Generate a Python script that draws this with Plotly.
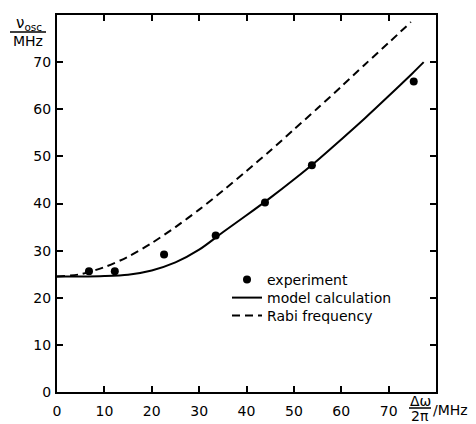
import plotly.graph_objects as go

# experimental data
exp_x = [6.75, 12.2, 22.6, 33.5, 43.9, 53.8, 75.3]
exp_y = [25.6, 25.6, 29.2, 33.2, 40.2, 48.1, 65.9]

# model calculation (solid)
model_x = [0, 5, 10, 15, 20, 25, 30, 35, 40, 45, 50, 55, 60, 65, 70, 75, 77.4]
model_y = [24.5, 24.5, 24.6, 24.9, 25.8, 27.5, 30.2, 33.9, 37.5, 41.2, 45.1, 49.2, 53.6, 58.1, 62.8, 67.6, 70.0]

# Rabi frequency (dashed)
rabi_x = [0, 5, 10, 15, 20, 25, 30, 35, 40, 45, 50, 55, 60, 65, 70, 74.7]
rabi_y = [24.5, 25.0, 26.5, 28.7, 31.6, 35.0, 38.7, 42.7, 46.9, 51.2, 55.7, 60.2, 64.8, 69.5, 74.1, 78.5]

tick_vals = [0, 10, 20, 30, 40, 50, 60, 70]
tick_text = ["0", "10", "20", "30", "40", "50", "60", "70"]

FONT = "DejaVu Sans"
# The page body has an 8px default margin; compensate so the plot lands
# where the reference has it in the 476x424 window.
OFF = 8
WIN_W, WIN_H = 476, 424
PL, PR, PT, PB = 57, 436, 15, 392  # plot area in window pixels
W, H = WIN_W - OFF, WIN_H - OFF
L, T = PL - OFF, PT - OFF
R, B = WIN_W - PR, WIN_H - PB
PW, PH = PR - PL, PB - PT


def px(x):
    return (x - PL) / PW


def py(y):
    return (PB - y) / PH


fig = go.Figure()
fig.add_trace(go.Scatter(x=exp_x, y=exp_y, mode="markers", name="experiment",
                         marker=dict(color="black", size=8), legend="legend"))
fig.add_trace(go.Scatter(x=model_x, y=model_y, mode="lines", name="model calculation",
                         line=dict(color="black", width=2, shape="spline", smoothing=0.8),
                         legend="legend2"))
fig.add_trace(go.Scatter(x=rabi_x, y=rabi_y, mode="lines", name="Rabi frequency",
                         line=dict(color="black", width=2, dash="8px,5px",
                                   shape="spline", smoothing=0.8),
                         legend="legend3"))

axis_common = dict(showgrid=False, zeroline=False, showline=True, linecolor="black",
                   linewidth=2, mirror="allticks", ticks="inside", ticklen=6,
                   tickwidth=1.5, tickcolor="black", range=[0, 80],
                   tickvals=tick_vals, ticktext=tick_text, automargin=False,
                   tickfont=dict(family=FONT, size=14, color="black"))

leg_common = dict(x=px(227), xanchor="left", yanchor="middle",
                  bgcolor="rgba(0,0,0,0)", itemwidth=30,
                  font=dict(family=FONT, size=14, color="black"))

fig.update_layout(
    width=W, height=H,
    margin=dict(l=L, r=R, t=T, b=B, autoexpand=False),
    plot_bgcolor="white", paper_bgcolor="white",
    font=dict(family=FONT, size=14, color="black"),
    xaxis=dict(**axis_common, ticklabelstandoff=5),
    yaxis=dict(**axis_common, ticklabelstandoff=1),
    showlegend=True,
    legend=dict(**leg_common, y=py(280)),
    legend2=dict(**leg_common, y=py(298)),
    legend3=dict(**leg_common, y=py(316)),
)

anns = [
    dict(text="ν<sub>osc</sub>", x=px(29), y=py(23), xanchor="center", yanchor="middle",
         font=dict(family=FONT, size=15, color="black")),
    dict(text="MHz", x=px(28), y=py(41), xanchor="center", yanchor="middle"),
    dict(text="Δω", x=px(420), y=py(401), xanchor="center", yanchor="middle"),
    dict(text="2π", x=px(420), y=py(416), xanchor="center", yanchor="middle"),
    dict(text="/MHz", x=px(431), y=py(410), xanchor="left", yanchor="middle"),
]
for a in anns:
    a.setdefault("font", dict(family=FONT, size=14, color="black"))
    fig.add_annotation(xref="paper", yref="paper", showarrow=False, **a)

fig.add_shape(type="line", xref="paper", yref="paper", x0=px(10), x1=px(46),
              y0=py(32), y1=py(32), line=dict(color="black", width=1.5))
fig.add_shape(type="line", xref="paper", yref="paper", x0=px(409), x1=px(431),
              y0=py(408), y1=py(408), line=dict(color="black", width=1.5))

fig.write_html("out.html")
